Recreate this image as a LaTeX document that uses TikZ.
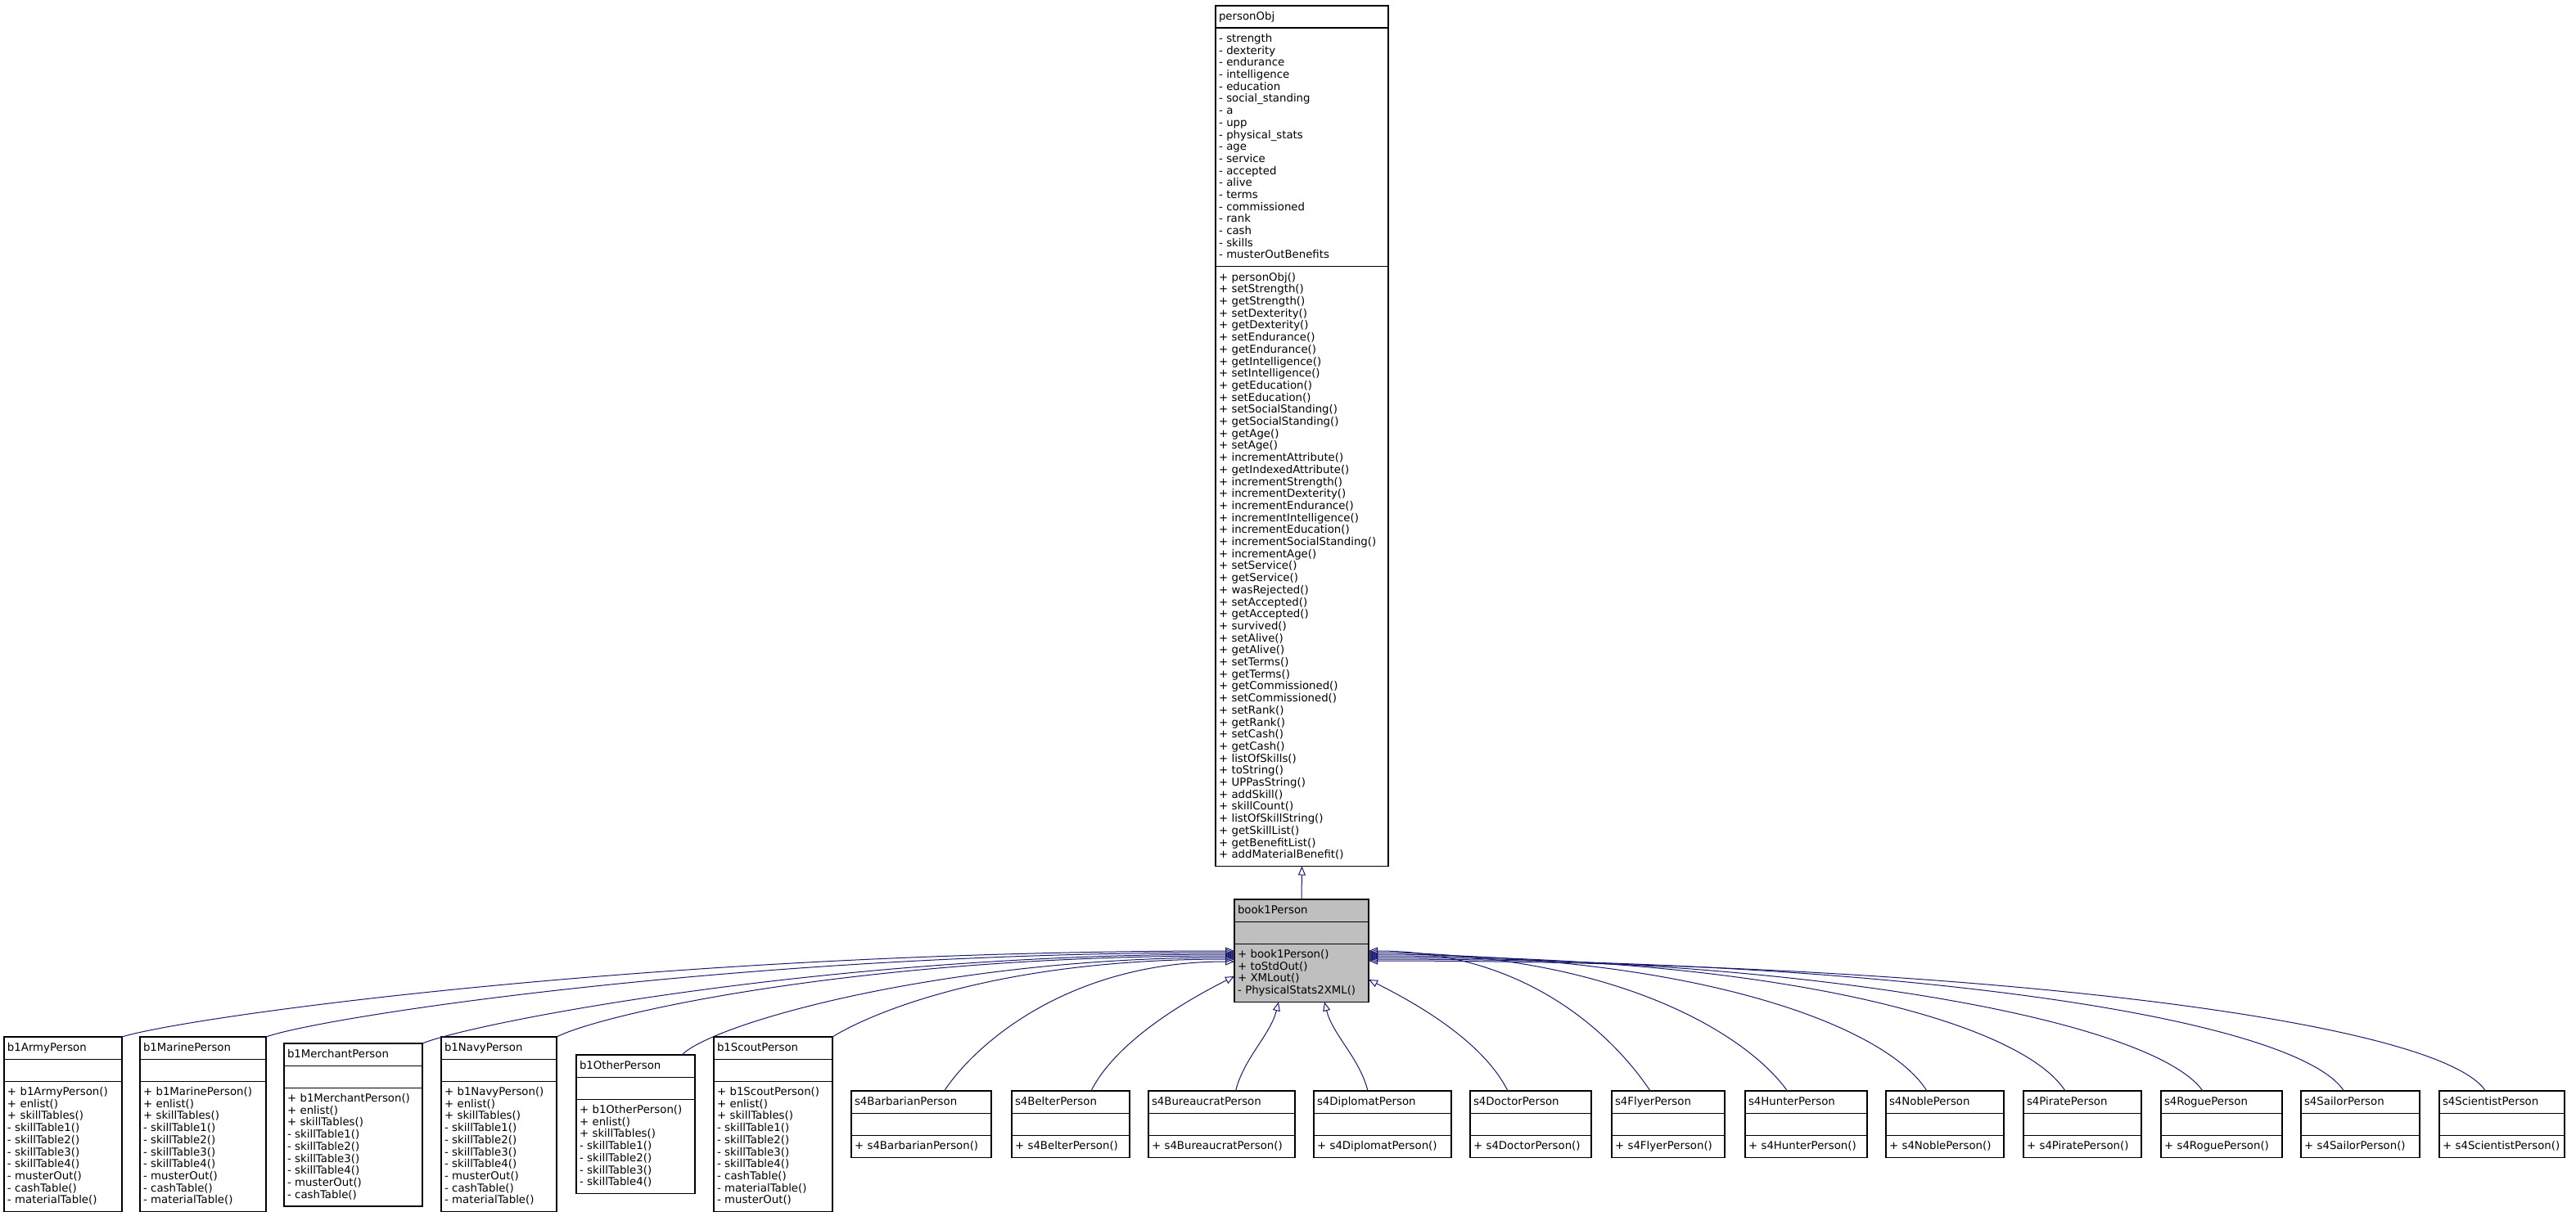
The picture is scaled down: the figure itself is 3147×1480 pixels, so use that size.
\documentclass[tikz,border=0pt]{standalone}
\usepackage{fontspec}
\setmainfont{DejaVu Sans}
\usetikzlibrary{shapes.multipart,arrows.meta}
\newcommand\rs{\rule[-3.6pt]{0pt}{14.7pt}}

\begin{document}
\begin{tikzpicture}[x=1pt,y=-1pt,
      every node/.style={font=\fontsize{13.3}{14.7}\selectfont},
      classbox/.style={rectangle split,rectangle split parts=3,draw=black,
        line width=1.2pt,anchor=north west,outer sep=0pt,inner xsep=4pt,
        inner ysep=5.6pt,text width=#1,align=left},
      inherit/.style={draw={rgb,255:red,25;green,25;blue,112},line width=1pt,
        -{Triangle[open,length=11pt,width=9pt]}}]
  \useasboundingbox (0,0) rectangle (3147,1480);

  \node[classbox=203pt] (personObj) at (1485,7) {\centering\rs personObj
    \nodepart{two}\rs - strength\\- dexterity\\- endurance\\- intelligence\\
    - education\\- social\_standing\\- a\\- upp\\- physical\_stats\\- age\\
    - service\\- accepted\\- alive\\- terms\\- commissioned\\- rank\\- cash\\
    - skills\\- musterOutBenefits\rs
    \nodepart{three}\rs + personObj()\\+ setStrength()\\+ getStrength()\\
    + setDexterity()\\+ getDexterity()\\+ setEndurance()\\+ getEndurance()\\
    + getIntelligence()\\+ setIntelligence()\\+ getEducation()\\+ setEducation()\\
    + setSocialStanding()\\+ getSocialStanding()\\+ getAge()\\+ setAge()\\
    + incrementAttribute()\\+ getIndexedAttribute()\\+ incrementStrength()\\
    + incrementDexterity()\\+ incrementEndurance()\\+ incrementIntelligence()\\
    + incrementEducation()\\+ incrementSocialStanding()\\+ incrementAge()\\
    + setService()\\+ getService()\\+ wasRejected()\\+ setAccepted()\\
    + getAccepted()\\+ survived()\\+ setAlive()\\+ getAlive()\\+ setTerms()\\
    + getTerms()\\+ getCommissioned()\\+ setCommissioned()\\+ setRank()\\
    + getRank()\\+ setCash()\\+ getCash()\\+ listOfSkills()\\+ toString()\\
    + UPPasString()\\+ addSkill()\\+ skillCount()\\+ listOfSkillString()\\
    + getSkillList()\\+ getBenefitList()\\+ addMaterialBenefit()\rs};

  \node[classbox=156pt,fill={rgb,255:red,191;green,191;blue,191}] (book1Person)
    at (1508,1099) {\centering\rs book1Person
    \nodepart{two}\rs
    \nodepart{three}\rs + book1Person()\\+ toStdOut()\\+ XMLout()\\
    - PhysicalStats2XML()\rs};

  % book 1 careers
  \node[classbox=136pt] (b1ArmyPerson) at (5,1267) {\centering\rs b1ArmyPerson
    \nodepart{two}\rs
    \nodepart{three}\rs + b1ArmyPerson()\\+ enlist()\\+ skillTables()\\
    - skillTable1()\\- skillTable2()\\- skillTable3()\\- skillTable4()\\
    - musterOut()\\- cashTable()\\- materialTable()\rs};
  \node[classbox=146pt] (b1MarinePerson) at (171,1267) {\centering\rs b1MarinePerson
    \nodepart{two}\rs
    \nodepart{three}\rs + b1MarinePerson()\\+ enlist()\\+ skillTables()\\
    - skillTable1()\\- skillTable2()\\- skillTable3()\\- skillTable4()\\
    - musterOut()\\- cashTable()\\- materialTable()\rs};
  \node[classbox=161pt] (b1MerchantPerson) at (347,1275) {\centering\rs b1MerchantPerson
    \nodepart{two}\rs
    \nodepart{three}\rs + b1MerchantPerson()\\+ enlist()\\+ skillTables()\\
    - skillTable1()\\- skillTable2()\\- skillTable3()\\- skillTable4()\\
    - musterOut()\\- cashTable()\rs};
  \node[classbox=133pt] (b1NavyPerson) at (539,1267) {\centering\rs b1NavyPerson
    \nodepart{two}\rs
    \nodepart{three}\rs + b1NavyPerson()\\+ enlist()\\+ skillTables()\\
    - skillTable1()\\- skillTable2()\\- skillTable3()\\- skillTable4()\\
    - musterOut()\\- cashTable()\\- materialTable()\rs};
  \node[classbox=137pt] (b1OtherPerson) at (704,1289) {\centering\rs b1OtherPerson
    \nodepart{two}\rs
    \nodepart{three}\rs + b1OtherPerson()\\+ enlist()\\+ skillTables()\\
    - skillTable1()\\- skillTable2()\\- skillTable3()\\- skillTable4()\rs};
  \node[classbox=137pt] (b1ScoutPerson) at (872,1267) {\centering\rs b1ScoutPerson
    \nodepart{two}\rs
    \nodepart{three}\rs + b1ScoutPerson()\\+ enlist()\\+ skillTables()\\
    - skillTable1()\\- skillTable2()\\- skillTable3()\\- skillTable4()\\
    - cashTable()\\- materialTable()\\- musterOut()\rs};

  % supplement 4 careers
  \foreach \cname/\cx/\cw in {s4BarbarianPerson/1040/163, s4BelterPerson/1236/136,
      s4BureaucratPerson/1403/171, s4DiplomatPerson/1605/160,
      s4DoctorPerson/1796/140, s4FlyerPerson/1969/130, s4HunterPerson/2132/141,
      s4NoblePerson/2304/136, s4PiratePerson/2472/136, s4RoguePerson/2640/140,
      s4SailorPerson/2811/137, s4ScientistPerson/2980/145}
    \node[classbox=\cw pt] (\cname) at (\cx,1333) {\centering\rs \cname
      \nodepart{two}\rs
      \nodepart{three}\rs + \cname()\rs};

  \draw[inherit] (book1Person.north) -- (personObj.south);

  \foreach \cname/\at/\dx/\ax/\ay/\bx/\by/\dy in {
      b1ArmyPerson/north east/0/80/-25/-700/0/63,
      b1MarinePerson/north east/0/70/-25/-600/0/65,
      b1MerchantPerson/north east/0/60/-25/-500/0/67,
      b1NavyPerson/north east/0/60/-30/-450/0/69,
      b1OtherPerson/north east/-16/40/-40/-350/0/71,
      b1ScoutPerson/north east/0/40/-25/-300/0/73,
      s4BarbarianPerson/north/28/40/-60/-200/0/76,
      s4BelterPerson/north/25/30/-60/-60/30/94}
    \draw[inherit] ([xshift=\dx pt]\cname.\at) .. controls +(\ax,\ay) and +(\bx,\by)
      .. ([yshift=-\dy pt]book1Person.north west);

  \draw[inherit] ([xshift=17pt]s4BureaucratPerson.north) .. controls +(10,-40)
    and +(-10,40) .. ([xshift=54pt]book1Person.south west);
  \draw[inherit] ([xshift=-18pt]s4DiplomatPerson.north) .. controls +(-10,-40)
    and +(10,40) .. ([xshift=110pt]book1Person.south west);

  \foreach \cname/\dx/\ax/\ay/\bx/\by/\dy in {
      s4DoctorPerson/-28/-30/-60/60/30/98,
      s4FlyerPerson/-22/-40/-60/200/0/63,
      s4HunterPerson/-23/-50/-70/300/0/65,
      s4NoblePerson/-22/-50/-80/400/0/67,
      s4PiratePerson/-21/-55/-85/500/0/69,
      s4RoguePerson/-23/-60/-85/550/0/71,
      s4SailorPerson/-20/-60/-90/650/0/73,
      s4ScientistPerson/-20/-60/-90/700/0/75}
    \draw[inherit] ([xshift=\dx pt]\cname.north) .. controls +(\ax,\ay) and +(\bx,\by)
      .. ([yshift=-\dy pt]book1Person.north east);
\end{tikzpicture}
\end{document}
